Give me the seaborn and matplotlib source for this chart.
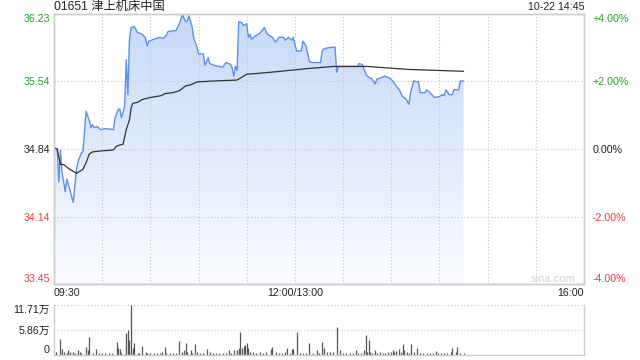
import numpy as np
import pandas as pd
import matplotlib
matplotlib.use("Agg")
import matplotlib.pyplot as plt
from matplotlib.colors import LinearSegmentedColormap
from matplotlib.patches import Polygon
import seaborn as sns

title = "01651 津上机床中国"
stamp = "10-22 14:45"
prev_close = 34.84
price_ticks = [33.45, 34.14, 34.84, 35.54, 36.23]
price_labels = ["33.45", "34.14", "34.84", "35.54", "36.23"]
pct_labels = ["-4.00%", "-2.00%", "0.00%", "+2.00%", "+4.00%"]
vol_ticks = [0, 5.86, 11.71]
vol_labels = ["0", "5.86万", "11.71万"]
x_ticks = [0, 150, 330]
x_labels = ["09:30", "12:00/13:00", "16:00"]

price_times = ["09:30", "09:32", "09:33", "09:34", "09:35", "09:37", "09:38", "09:42", "09:44", "09:45",
               "09:47", "09:48", "09:49", "09:50", "09:52", "09:53", "09:54", "09:55", "09:57", "09:59",
               "10:02", "10:07", "10:08", "10:10", "10:11", "10:12", "10:14", "10:15", "10:16", "10:17",
               "10:18", "10:20", "10:22", "10:25", "10:27", "10:28", "10:29", "10:32", "10:36", "10:38",
               "10:40", "10:41", "10:46", "10:48", "10:50", "10:52", "10:53", "10:54", "10:56", "10:57",
               "10:59", "11:00", "11:03", "11:04", "11:06", "11:07", "11:10", "11:13", "11:15", "11:17",
               "11:20", "11:21", "11:22", "11:23", "11:24", "11:25", "11:27", "11:28", "11:30", "11:31",
               "11:32", "11:33", "11:35", "11:38", "11:41", "11:43", "11:46", "11:48", "11:50", "11:53",
               "11:54", "11:56", "11:58", "11:59", "13:01", "13:04", "13:05", "13:07", "13:09", "13:11",
               "13:16", "13:17", "13:18", "13:20", "13:25", "13:26", "13:27", "13:32", "13:39", "13:40",
               "13:42", "13:43", "13:45", "13:48", "13:50", "13:51", "13:53", "13:56", "13:59", "14:01",
               "14:03", "14:05", "14:07", "14:09", "14:11", "14:12", "14:14", "14:17", "14:18", "14:21",
               "14:22", "14:24", "14:27", "14:30", "14:32", "14:33", "14:34", "14:36", "14:38", "14:39",
               "14:42", "14:43", "14:45"]
price_values = [34.85, 34.84, 34.50, 34.83, 34.60, 34.40, 34.53, 34.29, 34.63, 34.71,
                34.80, 34.81, 35.01, 35.23, 35.13, 35.06, 35.09, 35.06, 35.07, 35.04,
                35.05, 35.04, 35.16, 35.25, 35.25, 35.16, 35.28, 35.76, 35.40, 35.97,
                36.09, 36.10, 36.04, 36.02, 35.98, 35.90, 35.95, 35.97, 35.99, 35.98,
                36.01, 36.05, 36.06, 36.13, 36.22, 36.15, 36.16, 36.21, 36.10, 35.98,
                35.89, 35.82, 35.82, 35.70, 35.78, 35.72, 35.70, 35.69, 35.68, 35.73,
                35.71, 35.67, 35.59, 35.69, 35.65, 36.15, 36.14, 36.11, 36.13, 35.99,
                36.02, 35.97, 36.00, 36.03, 36.09, 36.02, 35.99, 35.94, 35.99, 35.99,
                35.96, 35.99, 35.96, 35.99, 35.85, 35.85, 35.95, 35.90, 35.74, 35.73,
                35.73, 35.85, 35.87, 35.88, 35.89, 35.63, 35.69, 35.69, 35.69, 35.72,
                35.71, 35.66, 35.59, 35.56, 35.51, 35.56, 35.57, 35.59, 35.57, 35.54,
                35.49, 35.45, 35.38, 35.36, 35.30, 35.42, 35.54, 35.53, 35.42, 35.42,
                35.45, 35.42, 35.37, 35.38, 35.40, 35.39, 35.45, 35.40, 35.40, 35.45,
                35.45, 35.54, 35.54]

avg_times = ["09:30", "09:32", "09:34", "09:36", "09:39", "09:44", "09:46", "09:48", "09:50", "09:52",
             "09:54", "09:59", "10:07", "10:09", "10:13", "10:15", "10:17", "10:18", "10:19", "10:22",
             "10:25", "10:30", "10:37", "10:39", "10:44", "10:48", "10:52", "10:55", "10:59", "11:09",
             "11:24", "11:30", "11:38", "11:51", "13:03", "13:09", "13:24", "13:45", "14:10", "14:45"]
avg_values = [34.85, 34.84, 34.68, 34.68, 34.64, 34.59, 34.61, 34.63, 34.70, 34.79,
              34.81, 34.82, 34.83, 34.87, 34.89, 35.04, 35.14, 35.26, 35.31, 35.32,
              35.35, 35.37, 35.39, 35.41, 35.42, 35.44, 35.49, 35.50, 35.53, 35.54,
              35.55, 35.61, 35.62, 35.64, 35.66, 35.67, 35.69, 35.69, 35.66, 35.64]

vol_minutes = [1, 4, 5, 6, 8, 9, 10, 12, 13, 15, 16, 17, 20, 21, 22, 24, 26, 28, 30, 32,
               34, 36, 39, 40, 41, 42, 44, 45, 46, 47, 48, 49, 50, 52, 53, 55, 57, 58, 60, 62,
               64, 66, 67, 69, 70, 72, 74, 76, 78, 80, 81, 82, 83, 85, 86, 88, 89, 91, 93, 95,
               97, 99, 101, 103, 105, 107, 109, 110, 112, 114, 115, 116, 117, 118, 119, 120, 121, 122, 124, 126,
               128, 130, 132, 135, 136, 138, 140, 142, 144, 145, 147, 148, 149, 151, 153, 155, 157, 159, 161, 164,
               165, 167, 168, 170, 172, 174, 176, 178, 180, 182, 184, 186, 188, 189, 191, 193, 194, 195, 196, 197,
               198, 200, 201, 203, 205, 206, 208, 210, 211, 212, 213, 215, 216, 217, 218, 220, 221, 222, 224, 226,
               228, 230, 232, 234, 236, 238, 239, 241, 243, 245, 247, 248, 250, 251, 253, 255]
vol_values = [0.78, 3.67, 1.33, 0.78, 0.55, 1.17, 0.78, 0.78, 0.55, 1.17, 0.78, 0.55, 1.80, 1.17, 4.14, 0.55, 1.33, 0.55, 0.55, 0.55,
              0.39, 0.55, 2.97, 1.56, 1.33, 0.39, 0.23, 5.07, 5.86, 3.51, 11.71, 1.56, 2.73, 0.55, 0.39, 2.11, 0.78, 0.55, 0.39, 0.55,
              0.55, 0.55, 0.78, 1.80, 0.55, 0.39, 0.55, 0.55, 3.28, 0.78, 1.17, 2.89, 0.78, 1.17, 0.55, 2.58, 0.78, 0.55, 0.39, 1.33,
              0.78, 0.55, 0.55, 0.55, 0.39, 0.39, 1.17, 0.55, 1.17, 1.17, 1.56, 5.39, 1.56, 2.11, 2.34, 2.89, 1.56, 0.78, 0.78, 0.55,
              0.78, 0.55, 0.78, 1.33, 1.95, 0.78, 0.55, 0.55, 0.78, 1.56, 0.55, 1.33, 1.33, 5.46, 0.55, 0.55, 0.55, 2.73, 0.55, 1.17,
              0.55, 3.12, 1.56, 0.78, 0.78, 0.78, 6.64, 1.17, 0.55, 0.55, 0.55, 0.55, 1.17, 0.55, 0.55, 1.17, 4.68, 0.78, 3.51, 0.78,
              0.39, 1.17, 0.55, 0.78, 0.55, 0.55, 0.78, 0.78, 1.17, 0.78, 1.01, 1.33, 0.78, 2.58, 1.17, 0.78, 0.55, 2.58, 0.78, 1.56,
              0.55, 0.55, 0.55, 0.55, 0.55, 1.01, 0.55, 0.55, 0.39, 0.55, 0.78, 1.56, 0.78, 1.80, 0.39, 0.39]


def to_min(t):
    h, m = map(int, t.split(":"))
    tot = h * 60 + m
    return tot - 570 if tot <= 720 else tot - 780 + 150


sns.set_style("white")
plt.rcParams['font.family'] = ['Liberation Sans', 'Noto Sans CJK SC', 'DejaVu Sans']

W, H = 640, 360
fig = plt.figure(figsize=(6.4, 3.6), dpi=100)
ax = fig.add_axes([54 / W, 1 - 284 / H, 530 / W, 270 / H])
axv = fig.add_axes([54 / W, 1 - 355 / H, 530 / W, 50 / H])

price_df = pd.DataFrame({"minute": [to_min(t) for t in price_times], "price": price_values})
avg_df = pd.DataFrame({"minute": [to_min(t) for t in avg_times], "avg": avg_values})
vol_df = pd.DataFrame({"minute": vol_minutes, "vol": vol_values})

ymin, ymax = price_ticks[0], price_ticks[-1]

# gradient area under price line
verts = np.column_stack([
    np.concatenate([[price_df.minute.iloc[0]], price_df.minute, [price_df.minute.iloc[-1]]]),
    np.concatenate([[ymin], price_df.price, [ymin]])])
patch = Polygon(verts, closed=True, facecolor='none', edgecolor='none')
ax.add_patch(patch)
cmap = LinearSegmentedColormap.from_list('g', ['#fafcff', '#c6d9f8'])
grad = np.linspace(0, 1, 256).reshape(-1, 1)
img = ax.imshow(grad, extent=[0, 330, ymin, ymax], origin='lower', aspect='auto',
                cmap=cmap, zorder=1, interpolation='bicubic')
img.set_clip_path(patch)

sns.lineplot(data=price_df, x="minute", y="price", ax=ax, color='#5a8ff0', lw=1.0, zorder=3)
sns.lineplot(data=avg_df, x="minute", y="avg", ax=ax, color='#333333', lw=0.9, zorder=4)

ax.set_xlim(0, 330)
ax.set_ylim(ymin, ymax)
ax.set_xlabel("")
ax.set_ylabel("")
grid_kw = dict(color='#c4c4c4', lw=0.8, linestyle=(0, (1, 2)))
for gx in range(30, 330, 30):
    ax.axvline(gx, zorder=2, **grid_kw)
for gy in price_ticks[1:-1]:
    ax.axhline(gy, zorder=2, **grid_kw)

ax.set_xticks(x_ticks)
ax.set_xticklabels(x_labels)
ax.tick_params(axis='x', length=0, pad=3, labelsize=7.7, labelcolor='#222222')
xl = ax.get_xticklabels()
xl[0].set_horizontalalignment('left')
xl[-1].set_horizontalalignment('right')

colors = ['#f03c3c', '#f03c3c', '#222222', '#22a322', '#22a322']
ax.set_yticks(price_ticks)
ax.set_yticklabels(price_labels)
ax.tick_params(axis='y', length=0, pad=3, labelsize=7.7)
for lab, c in zip(ax.get_yticklabels(), colors):
    lab.set_color(c)
ax.get_yticklabels()[0].set_verticalalignment('bottom')
ax.get_yticklabels()[-1].set_verticalalignment('top')

axr = ax.twinx()
axr.set_ylim(ymin, ymax)
axr.set_yticks(price_ticks)
axr.set_yticklabels(pct_labels)
axr.tick_params(axis='y', length=0, pad=6, labelsize=7.7)
for lab, c in zip(axr.get_yticklabels(), colors):
    lab.set_color(c)
axr.get_yticklabels()[0].set_verticalalignment('bottom')
axr.get_yticklabels()[-1].set_verticalalignment('top')

for a in (ax, axr):
    for s in a.spines.values():
        s.set_color('#cccccc')
        s.set_linewidth(1)

ax.text((553 - 54) / 530, (284 - 279) / 270, "sina.com", transform=ax.transAxes,
        ha='center', va='center', fontsize=8, color='#d2d2d2', zorder=5)

# volume panel
axv.vlines(vol_df.minute, 0, vol_df.vol, color='#555555', lw=0.9)
axv.set_xlim(0, 330)
axv.set_ylim(0, vol_ticks[-1])
axv.set_xticks([])
axv.set_yticks(vol_ticks)
axv.set_yticklabels(vol_labels)
axv.tick_params(axis='y', length=0, pad=3, labelsize=7.7, labelcolor='#222222')
axv.get_yticklabels()[0].set_verticalalignment('bottom')
axv.get_yticklabels()[-1].set_verticalalignment('top')
for gy in vol_ticks[1:]:
    axv.axhline(gy, zorder=0, **grid_kw)
for k, s in axv.spines.items():
    s.set_color('#cccccc')
    s.set_linewidth(1)
axv.spines['top'].set_visible(False)

fig.text(54 / W, 1 - 7 / H, title, ha='left', va='center', fontsize=8.8, color='#222222')
fig.text(584 / W, 1 - 7 / H, stamp, ha='right', va='center', fontsize=7.7, color='#222222')

fig.savefig("out.png", dpi=100)
